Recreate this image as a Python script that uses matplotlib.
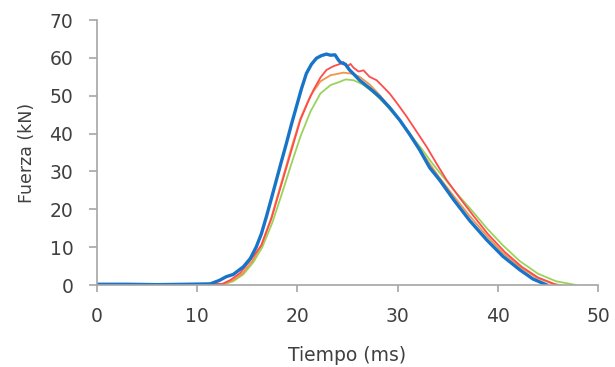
import matplotlib.pyplot as plt

# curves: tiempo (ms), fuerza (kN)
t_azul = [0, 3, 6, 9, 11.3, 12.2, 12.9, 13.6, 14.6, 15.3, 15.9, 16.4, 16.9, 17.4, 17.9, 18.4,
          18.9, 19.4, 19.9, 20.4, 20.9, 21.4, 21.9, 22.4, 22.9, 23.3, 23.75, 24.1, 24.3, 24.8,
          25.2, 25.7, 26.2, 27.2, 28.2, 29.2, 30.2, 31.2, 32.2, 33.2, 34.2, 35.6, 37.2, 38.9,
          40.5, 42.2, 43.5, 44.9]
f_azul = [0.2, 0.2, 0.1, 0.2, 0.3, 1.2, 2.2, 2.8, 4.8, 7.0, 10.1, 13.5, 18.0, 22.8, 27.7, 32.6,
          37.4, 42.4, 47.1, 51.8, 55.9, 58.3, 59.9, 60.6, 61.0, 60.7, 60.8, 59.4, 58.8, 58.3,
          56.8, 55.5, 54.1, 52.0, 49.7, 46.9, 43.6, 39.8, 35.7, 31.0, 27.7, 22.5, 17.0, 11.9,
          7.6, 4.0, 1.6, 0.0]

t_rojo = [0, 4, 8, 12.5, 13.3, 14.3, 15.3, 16.4, 17.4, 18.4, 19.4, 20.3, 21.0, 21.6, 22.3, 22.9,
          23.6, 24.25, 24.6, 24.9, 25.3, 25.6, 26.1, 26.6, 27.2, 27.9, 28.5, 29.2, 30.0, 30.9,
          31.9, 32.9, 33.9, 34.9, 36.2, 37.5, 39.0, 40.7, 42.4, 44.0, 45.9]
f_rojo = [0.1, 0.1, 0.1, 0.3, 1.3, 3.2, 6.5, 10.5, 17.5, 26.5, 35.5, 43.6, 48.0, 51.5, 54.8, 56.8,
          57.8, 58.4, 58.9, 57.6, 58.4, 57.4, 56.4, 56.7, 55.0, 54.1, 52.5, 50.6, 47.8, 44.5,
          40.5, 36.5, 32.0, 27.7, 23.0, 18.5, 13.5, 8.7, 4.8, 2.0, 0.0]

t_naranja = [0, 4, 8, 12.6, 13.5, 14.5, 15.5, 16.4, 17.4, 18.4, 19.4, 20.3, 21.3, 22.3, 23.3,
             24.6, 25.5, 26.2, 27.2, 28.2, 29.2, 30.2, 31.2, 32.2, 33.2, 34.2, 35.6, 37.2, 38.9,
             40.5, 42.2, 43.8, 45.5, 46.3]
f_naranja = [0.1, 0.1, 0.1, 0.2, 1.2, 3.0, 6.3, 10.5, 17.8, 27.0, 36.2, 44.0, 50.0, 53.8, 55.4,
             56.1, 55.8, 55.0, 53.0, 50.2, 47.0, 43.5, 39.8, 36.0, 32.0, 28.3, 23.5, 18.2, 13.0,
             8.5, 4.8, 2.0, 0.3, 0.0]

t_verde = [0, 4, 8, 12.7, 13.6, 14.6, 15.6, 16.5, 17.5, 18.5, 19.4, 20.3, 21.3, 22.3, 23.3,
           24.25, 24.8, 25.6, 26.5, 27.5, 28.5, 29.5, 30.5, 31.5, 32.5, 33.5, 34.5, 35.8, 37.3,
           38.9, 40.5, 42.2, 44.0, 45.8, 47.8]
f_verde = [0.1, 0.1, 0.1, 0.2, 1.0, 2.8, 6.0, 10.0, 16.5, 24.5, 32.0, 39.2, 45.8, 50.6, 52.8,
           53.7, 54.3, 54.1, 53.0, 51.0, 48.5, 45.5, 42.5, 39.0, 35.6, 32.0, 28.7, 24.5, 20.0,
           15.0, 10.5, 6.3, 3.0, 1.0, 0.0]

fig = plt.figure(figsize=(6.15, 3.67), dpi=100)
ax = fig.add_axes([0.1577, 0.2234, 0.8147, 0.7221])

ax.plot(t_verde, f_verde, color="#9ad35a", lw=1.3)
ax.plot(t_naranja, f_naranja, color="#f0954a", lw=1.3)
ax.plot(t_rojo, f_rojo, color="#ff4b4b", lw=1.3)
ax.plot(t_azul, f_azul, color="#1874c8", lw=2.4)

ax.set_xlim(0, 50)
ax.set_ylim(0, 70)
ax.set_xticks(range(0, 51, 10))
ax.set_yticks(range(0, 71, 10))

for s in ["top", "right"]:
    ax.spines[s].set_visible(False)
for s in ["left", "bottom"]:
    ax.spines[s].set_color("#a6a6a6")
    ax.spines[s].set_linewidth(1.2)

ax.tick_params(axis="x", direction="out", length=5, width=1.2, color="#a6a6a6",
               labelsize=13.5, labelcolor="#404040", pad=11)
ax.tick_params(axis="y", direction="out", length=6, width=1.2, color="#a6a6a6",
               labelsize=13.5, labelcolor="#404040", pad=11)
for lab in ax.get_xticklabels() + ax.get_yticklabels():
    lab.set_family("DejaVu Sans")

ax.set_xlabel("Tiempo (ms)", fontsize=13.5, color="#404040", family="DejaVu Sans", labelpad=14)
ax.set_ylabel("Fuerza (kN)", fontsize=12.5, color="#404040", family="DejaVu Sans", labelpad=10)

fig.savefig("out.png", dpi=100)
